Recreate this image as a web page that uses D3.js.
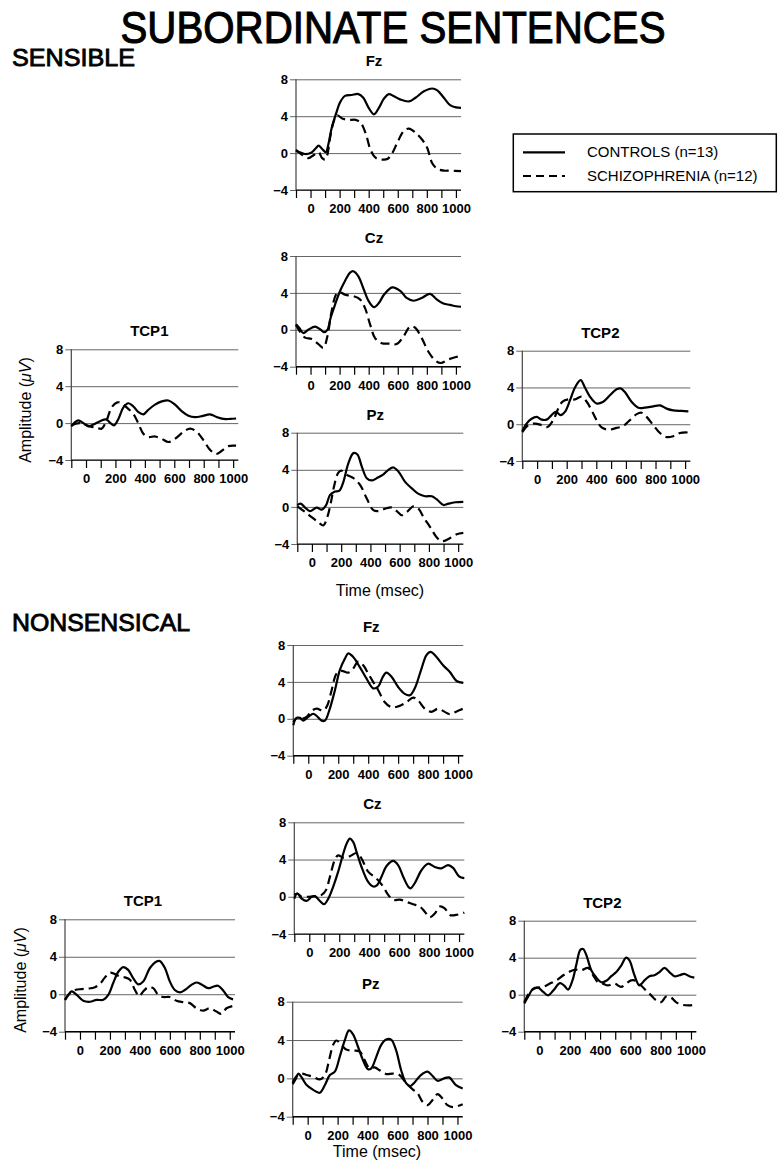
<!DOCTYPE html>
<html><head><meta charset="utf-8">
<script src="https://cdn.jsdelivr.net/npm/d3@7"></script>
<style>body{margin:0;background:#fff}svg{display:block}</style>
</head><body>
<svg id="c" width="781" height="1166"></svg>
<script>
// ---------- DATA ----------
const timeTicks = [0,200,400,600,800,1000];
const minorTicks = [-100,0,100,200,300,400,500,600,700,800,900,1000];
const ampTicks = [-4,0,4,8];
const seriesNames = ["CONTROLS (n=13)","SCHIZOPHRENIA (n=12)"];

const sensFzCtrl = [[-100,0.25],[-75,0.1],[-40,-0.1],[0,0],[35,0.5],[55,0.8],[77,0.5],[105,0.1],[122,0.9],[145,2.7],[180,4.5],[203,5.5],[237,6.2],[283,6.3],[329,6.4],[363,6.0],[400,4.9],[436,4.2],[470,4.9],[505,5.9],[539,6.4],[570,6.2],[619,5.8],[677,5.6],[722,6.0],[780,6.7],[837,7.0],[872,6.8],[917,6.0],[960,5.2],[1000,4.95],[1035,4.9]];
const sensFzSchz = [[-100,0.35],[-65,-0.1],[-15,-0.55],[23,-0.2],[55,0.1],[80,-0.55],[100,-0.7],[115,-0.2],[134,1.6],[157,3.3],[183,4.1],[218,3.75],[264,3.6],[310,3.6],[344,3.3],[378,2.2],[413,0.35],[447,-0.5],[493,-0.7],[528,-0.65],[562,0],[596,1.1],[642,2.4],[677,2.65],[722,2.2],[768,1.45],[803,0.55],[837,-1.1],[872,-1.7],[917,-1.9],[960,-1.9],[1035,-1.95]];
const sensCzCtrl = [[-100,0.6],[-77,0.2],[-50,-0.35],[-16,0],[31,0.35],[65,0.07],[93,-0.25],[116,0],[138,1.3],[168,2.7],[203,4.2],[237,5.3],[272,6.2],[294,6.35],[329,5.8],[363,4.5],[400,3.1],[436,2.45],[470,2.9],[505,3.8],[562,4.6],[619,4.2],[661,3.45],[707,3.15],[765,3.45],[822,3.9],[868,3.3],[914,2.85],[960,2.7],[1000,2.55],[1035,2.5]];
const sensCzSchz = [[-100,0.55],[-73,-0.2],[-38,-0.85],[8,-1.0],[54,-1.55],[88,-1.95],[116,-0.7],[145,2.0],[175,3.8],[198,4.1],[237,3.8],[294,3.65],[340,3.3],[375,2.35],[410,0.55],[444,-0.9],[490,-1.45],[548,-1.5],[592,-1.55],[640,-0.7],[685,0.35],[718,0.25],[765,-0.9],[810,-2.35],[856,-3.3],[895,-3.6],[950,-3.2],[1000,-2.95],[1035,-2.85]];
const sensTcp1Ctrl = [[-100,-0.35],[-75,0.1],[-52,0.3],[-18,0],[16,-0.35],[50,-0.15],[95,0.2],[136,0.4],[163,0.05],[190,-0.25],[220,0.45],[254,1.7],[288,2.15],[322,1.8],[356,1.2],[390,0.95],[424,1.45],[469,2.0],[515,2.35],[560,2.45],[605,2.0],[650,1.3],[696,0.8],[741,0.65],[787,0.75],[843,0.95],[889,0.65],[934,0.45],[980,0.45],[1020,0.5]];
const sensTcp1Schz = [[-100,-0.25],[-45,0],[27,-0.35],[72,-0.5],[106,-0.6],[140,0.3],[174,1.7],[213,2.25],[242,2.15],[276,1.7],[322,1.0],[356,-0.05],[390,-1.15],[424,-1.5],[469,-1.45],[515,-1.7],[560,-2.05],[605,-1.7],[662,-0.95],[707,-0.6],[753,-0.95],[798,-1.85],[843,-2.9],[884,-3.35],[923,-3.0],[968,-2.5],[1020,-2.45]];
const sensPzCtrl = [[-100,0.2],[-77,0.35],[-47,-0.07],[-13,-0.45],[32,-0.07],[67,-0.3],[97,0.2],[124,1.3],[158,1.65],[188,1.75],[215,2.7],[249,4.7],[284,5.8],[311,5.65],[341,4.35],[375,3.1],[409,2.85],[443,3.1],[489,3.5],[523,4.0],[557,4.25],[592,3.8],[637,2.7],[683,2.0],[729,1.4],[774,1.15],[820,1.15],[854,0.8],[900,0.2],[934,0.35],[980,0.5],[1035,0.55]];
const sensPzSchz = [[-100,0.05],[-47,-0.55],[-2,-1.1],[44,-1.65],[78,-2.0],[105,-1.1],[128,0.35],[151,2.2],[181,3.7],[204,3.9],[238,3.45],[284,3.1],[330,2.35],[375,0.9],[420,-0.35],[455,-0.45],[500,-0.2],[546,-0.07],[580,-0.45],[614,-0.9],[649,-0.55],[695,0.07],[729,-0.2],[763,-1.1],[809,-2.2],[854,-3.3],[888,-3.7],[934,-3.45],[990,-2.95],[1035,-2.8]];
const sensTcp2Ctrl = [[-100,-0.75],[-71,0.07],[-37,0.6],[-3,0.8],[31,0.5],[64,0.5],[98,1.0],[127,1.35],[159,1.0],[188,1.35],[222,2.6],[256,4.0],[294,4.8],[323,4.0],[357,3.0],[402,2.25],[447,2.45],[492,3.15],[537,3.8],[564,3.9],[593,3.5],[638,2.45],[684,1.8],[729,1.8],[785,1.95],[830,2.05],[875,1.7],[920,1.5],[977,1.45],[1022,1.4]];
const sensTcp2Schz = [[-100,-0.85],[-60,-0.1],[-14,0.07],[31,-0.1],[69,-0.3],[109,0.45],[143,1.7],[172,2.45],[211,2.7],[256,2.7],[300,3.0],[335,2.45],[369,1.5],[402,0.45],[436,-0.35],[481,-0.6],[537,-0.4],[582,-0.2],[627,0.45],[673,1.1],[706,1.25],[740,0.8],[785,-0.1],[830,-0.95],[875,-1.4],[920,-1.3],[965,-0.95],[1022,-0.9]];

const nonFzCtrl = [[-100,-0.35],[-78,0.1],[-56,0.1],[-33,-0.2],[0,0.2],[33,0.55],[60,0.25],[89,-0.2],[111,-0.2],[140,0.9],[178,3.1],[211,5.3],[244,6.5],[267,7.1],[300,6.7],[344,5.6],[389,4.35],[433,3.3],[467,3.5],[496,4.5],[522,5.0],[556,4.55],[600,3.45],[644,2.7],[678,2.55],[711,3.3],[756,5.45],[789,6.9],[816,7.25],[856,6.7],[900,5.8],[944,5.1],[990,4.1],[1035,3.9]];
const nonFzSchz = [[-100,-0.7],[-78,0.1],[-44,0],[-11,0.2],[22,0.85],[56,1.1],[100,0.9],[127,1.45],[156,3.1],[189,4.9],[222,5.2],[267,5.0],[300,5.45],[333,6.2],[367,5.8],[400,4.9],[433,4.0],[467,3.1],[511,1.8],[556,1.25],[600,1.35],[656,1.8],[700,2.3],[733,2.0],[778,1.1],[822,0.75],[867,1.1],[911,0.75],[944,0.5],[990,0.8],[1035,1.1]];
const nonCzCtrl = [[-100,-0.2],[-80,0.35],[-51,-0.2],[-18,-0.45],[16,0],[38,0.07],[71,-0.45],[98,-0.8],[127,-0.2],[160,1.1],[193,2.7],[227,4.65],[249,5.7],[271,6.25],[293,5.9],[316,4.8],[349,3.2],[393,1.6],[427,1.1],[453,1.25],[482,2.15],[516,3.3],[560,3.85],[593,3.4],[627,2.15],[660,1.1],[676,0.9],[704,1.45],[749,2.85],[793,3.55],[838,3.2],[882,3.05],[927,3.4],[960,3.1],[1000,2.2],[1035,2.0]];
const nonCzSchz = [[-100,0.2],[-80,0.35],[-51,0],[-7,0],[38,0.07],[82,0.2],[111,0.7],[138,2.15],[171,4.0],[193,4.45],[227,4.2],[271,4.35],[316,4.7],[349,4.1],[393,2.7],[449,1.95],[493,1.1],[527,0.2],[564,-0.35],[604,-0.3],[649,-0.55],[693,-0.8],[738,-1.05],[771,-1.6],[804,-2.2],[838,-1.8],[871,-1.05],[904,-1.25],[938,-1.95],[980,-1.95],[1035,-1.7]];
const nonTcp1Ctrl = [[-100,-0.6],[-78,-0.07],[-56,0.3],[-22,-0.07],[22,-0.7],[67,-0.8],[111,-0.6],[156,-0.6],[189,-0.07],[222,1.2],[256,2.4],[289,2.9],[322,2.6],[356,1.7],[389,1.05],[422,1.35],[467,2.8],[511,3.5],[533,3.55],[567,2.8],[600,1.35],[633,0.45],[667,0.2],[700,0.45],[744,1.0],[778,1.25],[811,1.05],[856,0.65],[889,0.8],[922,0.9],[956,0.4],[989,-0.3],[1022,-0.55]];
const nonTcp1Schz = [[-100,-0.6],[-67,0.1],[-33,0.45],[11,0.55],[56,0.6],[100,0.75],[133,1.1],[167,1.8],[200,2.3],[233,2.15],[267,1.9],[300,1.8],[333,1.55],[367,0.45],[396,-0.2],[422,0.3],[456,0.75],[489,0.65],[522,-0.07],[556,-0.3],[600,-0.3],[644,-0.7],[689,-0.85],[733,-0.95],[778,-1.5],[822,-1.75],[867,-1.5],[911,-1.85],[944,-2.1],[978,-1.5],[1022,-1.25]];
const nonPzCtrl = [[-100,-0.6],[-78,0],[-62,0.5],[-40,0.1],[-7,-0.7],[37,-1.2],[81,-1.5],[115,-0.7],[148,0.35],[181,0.7],[214,2.25],[248,4.0],[276,5.0],[303,4.6],[336,3.3],[369,1.9],[403,0.95],[425,1.05],[458,2.25],[491,3.5],[524,4.05],[557,4.05],[590,2.95],[624,0.85],[657,-0.5],[684,-0.8],[712,-0.45],[756,0.35],[801,0.7],[834,0.25],[867,-0.25],[911,0],[944,0.1],[990,-0.7],[1035,-1.05]];
const nonPzSchz = [[-100,-0.45],[-73,0.25],[-40,0.5],[-7,0.35],[37,0.17],[81,-0.1],[115,0.35],[143,1.9],[170,3.5],[192,3.95],[225,3.5],[259,3.0],[303,2.9],[347,2.8],[380,1.9],[414,1.05],[447,1.15],[480,0.85],[524,0.45],[569,0.5],[613,0.35],[657,-0.5],[701,-1.15],[734,-1.55],[767,-2.45],[801,-2.8],[834,-2.25],[867,-1.65],[900,-2.1],[933,-2.8],[970,-3.0],[1035,-2.7]];
const nonTcp2Ctrl = [[-100,-0.95],[-74,-0.2],[-41,0.65],[-8,0.75],[25,0.3],[58,-0.07],[91,0.45],[135,1.25],[162,1.0],[189,0.55],[218,1.55],[244,3.3],[270,4.85],[288,4.95],[310,4.25],[342,2.65],[375,1.85],[408,1.35],[441,1.5],[474,2.0],[507,2.45],[539,3.15],[572,4.0],[594,3.7],[627,2.1],[660,1.0],[693,1.55],[726,2.0],[759,2.1],[792,2.45],[825,2.9],[857,2.45],[890,2.0],[923,2.1],[956,2.25],[989,2.0],[1022,1.85]];
const nonTcp2Schz = [[-100,-0.8],[-63,0.3],[-19,0.75],[25,0.85],[69,1.2],[113,1.55],[157,2.1],[200,2.5],[233,2.7],[277,2.65],[321,2.9],[354,2.1],[386,1.35],[419,1.2],[452,1.0],[496,1.2],[539,0.85],[572,1.2],[605,1.55],[638,1.5],[671,1.0],[704,0.45],[737,-0.07],[770,-0.6],[803,-0.8],[836,-0.2],[868,-0.3],[901,-0.8],[945,-1.1],[989,-1.15],[1022,-1.1]];

// ---------- LAYOUT ----------
const panels = [
  {name:"Fz",   ctrl:sensFzCtrl,   schz:sensFzSchz,   left:296,   top:79.3,  w:165, h:110.7},
  {name:"Cz",   ctrl:sensCzCtrl,   schz:sensCzSchz,   left:296,   top:256,   w:165, h:110.7},
  {name:"TCP1", ctrl:sensTcp1Ctrl, schz:sensTcp1Schz, left:71.3,  top:349.3, w:167, h:110.7},
  {name:"Pz",   ctrl:sensPzCtrl,   schz:sensPzSchz,   left:297.3, top:432.7, w:166, h:111.3},
  {name:"TCP2", ctrl:sensTcp2Ctrl, schz:sensTcp2Schz, left:522.3, top:350.7, w:168, h:110.3},
  {name:"Fz",   ctrl:nonFzCtrl,    schz:nonFzSchz,    left:293.3, top:645,   w:170, h:110.7},
  {name:"Cz",   ctrl:nonCzCtrl,    schz:nonCzSchz,    left:294.3, top:822.3, w:170, h:111.7},
  {name:"TCP1", ctrl:nonTcp1Ctrl,  schz:nonTcp1Schz,  left:65,    top:919.3, w:170, h:112.4},
  {name:"Pz",   ctrl:nonPzCtrl,    schz:nonPzSchz,    left:292.7, top:1001.7,w:170, h:115},
  {name:"TCP2", ctrl:nonTcp2Ctrl,  schz:nonTcp2Schz,  left:524.3, top:920.7, w:172, h:111}
];

const FONT = "'Liberation Sans', Arial, Helvetica, sans-serif";
const svg = d3.select("#c").style("font-family", FONT);

svg.append("text").attr("x",393).attr("y",43).attr("text-anchor","middle")
  .attr("font-size",45).attr("stroke","#000").attr("stroke-width",1.1)
  .attr("textLength",545).attr("lengthAdjust","spacingAndGlyphs")
  .text("SUBORDINATE SENTENCES");
svg.append("text").attr("x",12).attr("y",66).attr("font-size",23)
  .attr("stroke","#000").attr("stroke-width",0.8)
  .attr("textLength",123).attr("lengthAdjust","spacingAndGlyphs").text("SENSIBLE");
svg.append("text").attr("x",12).attr("y",631).attr("font-size",23)
  .attr("stroke","#000").attr("stroke-width",0.8)
  .attr("textLength",178).attr("lengthAdjust","spacingAndGlyphs").text("NONSENSICAL");

panels.forEach(p => {
  const x = d3.scaleLinear().domain([-100,1035]).range([p.left, p.left+p.w]);
  const y = d3.scaleLinear().domain([-4,8]).range([p.top+p.h, p.top]);
  const g = svg.append("g");
  // y axis with gridlines
  const yAx = g.append("g").attr("transform",`translate(${x(-100)},0)`)
    .call(d3.axisLeft(y).tickValues(ampTicks).tickSize(-(x(1035)-x(-100))).tickPadding(8));
  yAx.select(".domain").remove();
  yAx.selectAll(".tick line").attr("stroke","#666").attr("stroke-width",1).attr("x1",-6);
  yAx.selectAll(".tick text").attr("font-size",13).attr("font-weight","bold").attr("font-family",FONT).attr("fill","#000");
  // vertical axis line
  g.append("line").attr("x1",x(-100)).attr("x2",x(-100)).attr("y1",y(8)).attr("y2",y(-4))
    .attr("stroke","#444").attr("stroke-width",1.2);
  // x axis at -4
  const xAx = g.append("g").attr("transform",`translate(0,${y(-4)})`)
    .call(d3.axisBottom(x).tickValues(minorTicks).tickSize(8).tickPadding(6)
      .tickFormat(d => timeTicks.includes(d) ? d : ""));
  xAx.select(".domain").remove();
  xAx.selectAll(".tick line").attr("stroke","#000").attr("stroke-width",1.2);
  xAx.selectAll(".tick text").attr("font-size",13).attr("font-weight","bold").attr("font-family",FONT).attr("fill","#000");
  g.append("line").attr("x1",x(-100)).attr("x2",x(1035)).attr("y1",y(-4)).attr("y2",y(-4))
    .attr("stroke","#000").attr("stroke-width",1.2);
  // title
  g.append("text").attr("x",p.left+78).attr("y",p.top-13).attr("text-anchor","middle")
    .attr("font-size",15).attr("font-weight","bold").text(p.name);
  // curves
  const line = d3.line().x(d=>x(d[0])).y(d=>y(d[1])).curve(d3.curveCatmullRom.alpha(0.5));
  g.append("path").datum(p.ctrl).attr("d",line).attr("fill","none").attr("stroke","#000").attr("stroke-width",2.2);
  g.append("path").datum(p.schz).attr("d",line).attr("fill","none").attr("stroke","#000").attr("stroke-width",2.2)
    .attr("stroke-dasharray","9,5");
});

// axis titles
function ampLabel(cx, cy){
  const t = svg.append("text").attr("transform",`translate(${cx},${cy}) rotate(-90)`)
    .attr("text-anchor","middle").attr("dy","0.35em").attr("font-size",16);
  t.append("tspan").text("Amplitude (");
  t.append("tspan").attr("font-style","italic").text("\u03bcV");
  t.append("tspan").text(")");
}
ampLabel(25,410);
ampLabel(20,980);
svg.append("text").attr("x",380).attr("y",596).attr("text-anchor","middle").attr("font-size",16).text("Time (msec)");
svg.append("text").attr("x",377).attr("y",1157).attr("text-anchor","middle").attr("font-size",16).text("Time (msec)");

// legend
const lg = svg.append("g");
lg.append("rect").attr("x",513.3).attr("y",134).attr("width",263).attr("height",57.7)
  .attr("fill","none").attr("stroke","#000").attr("stroke-width",1.5);
[0,1].forEach(i => {
  const yy = i===0 ? 152.3 : 176;
  lg.append("line").attr("x1",523).attr("x2",565).attr("y1",yy).attr("y2",yy)
    .attr("stroke","#000").attr("stroke-width",2.2).attr("stroke-dasharray", i ? "8,5" : null);
  lg.append("text").attr("x",587).attr("y",yy+5).attr("font-size",15).text(seriesNames[i]);
});
</script>
</body></html>
